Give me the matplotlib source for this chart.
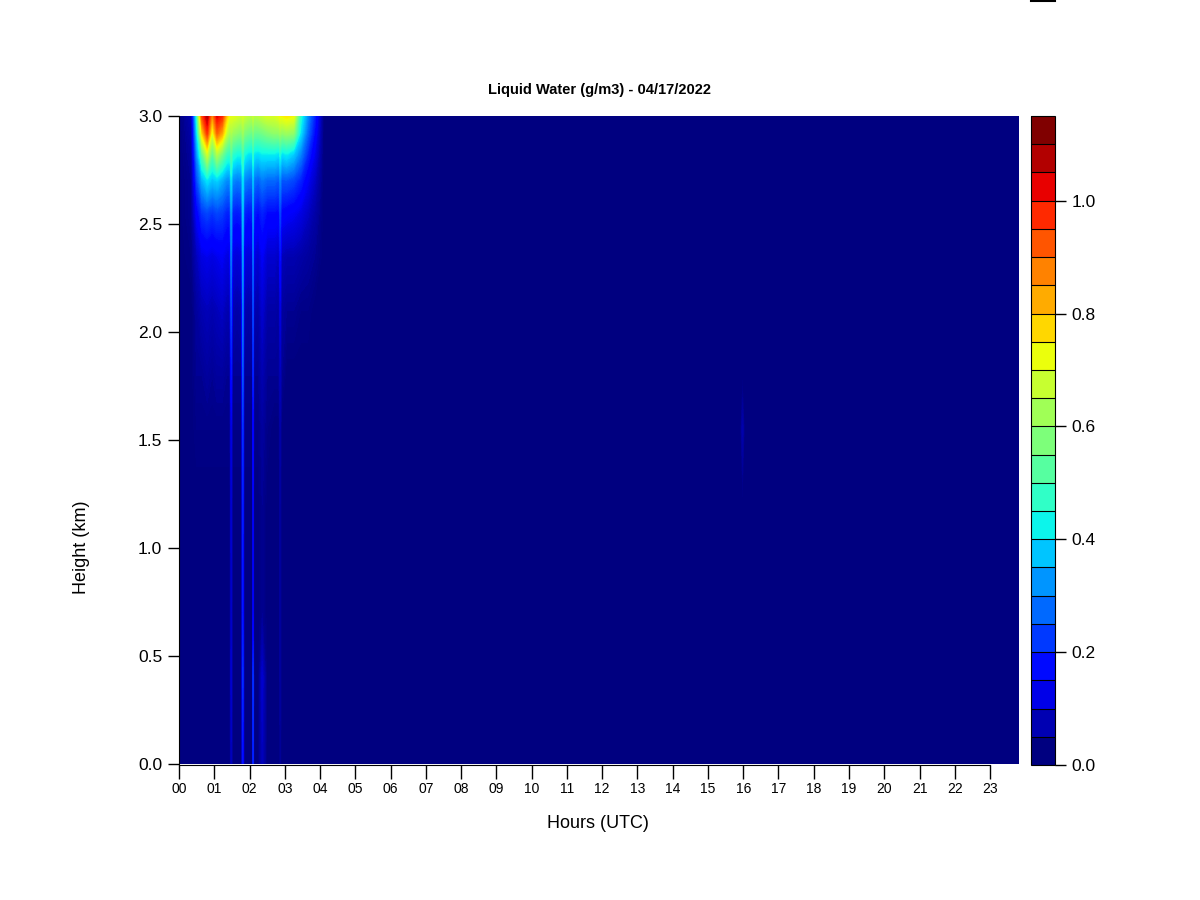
#!/usr/bin/env python3
"""Liquid water time-height plot, 04/17/2022."""
import numpy as np
import matplotlib
matplotlib.use("Agg")
import matplotlib.pyplot as plt
from matplotlib.colors import ListedColormap, BoundaryNorm
from matplotlib.lines import Line2D

plt.rcParams.update({"font.family": ["Liberation Sans", "DejaVu Sans"]})

# time nodes (hours UTC) and height nodes (km)
hours = [0.00, 0.35, 0.50, 0.65, 0.80, 0.94, 1.08, 1.22, 1.35, 1.44, 1.48, 1.52,
         1.65, 1.77, 1.81, 1.85, 1.97, 2.07, 2.10, 2.13, 2.25, 2.36, 2.50, 2.70,
         2.83, 2.87, 2.91, 3.05, 3.25, 3.45, 3.65, 3.85, 4.10, 15.92, 15.98, 16.04, 23.82]
heights_km = [0.00, 0.40, 0.70, 1.20, 1.55, 1.80, 2.10, 2.35, 2.55, 2.70, 2.82, 2.92, 3.00]

# liquid water (g/m3), one row per height (bottom to top), one value per time node
lwc_000 = [0, 0, 0, 0, 0, 0, 0, 0, 0, 0, .06, 0, 0, 0, .16, 0, 0, 0, .18, 0, 0, .06, 0, 0, 0, .02, 0, 0, 0, 0, 0, 0, 0, 0, 0, 0, 0]
lwc_040 = [0, 0, 0, 0, 0, 0, 0, 0, 0, 0, .08, 0, 0, 0, .20, 0, 0, 0, .20, 0, 0, .08, 0, 0, 0, .03, 0, 0, 0, 0, 0, 0, 0, 0, 0, 0, 0]
lwc_070 = [0, 0, 0, 0, 0, 0, 0, 0, 0, 0, .07, 0, 0, 0, .17, 0, 0, 0, .12, 0, 0, .02, 0, 0, 0, .03, 0, 0, 0, 0, 0, 0, 0, 0, 0, 0, 0]
lwc_120 = [0, 0, 0, 0, 0, 0, 0, 0, 0, 0, .08, 0, 0, 0, .18, 0, 0, 0, .12, 0, 0, .02, 0, 0, 0, .03, 0, 0, 0, 0, 0, 0, 0, 0, 0, 0, 0]
lwc_155 = [0, 0, .01, .01, .01, .01, .01, .01, .01, .01, .10, .01, .01, .01, .20, .01, .01, .01, .14, .01, .01, .03, .01, 0, 0, .04, 0, 0, 0, 0, 0, 0, 0, 0, .05, 0, 0]
lwc_180 = [0, 0, .02, .02, .03, .02, .03, .03, .02, .02, .16, .02, .02, .02, .24, .02, .02, .02, .18, .02, .02, .05, .02, .02, .02, .06, .02, 0, 0, 0, 0, 0, 0, 0, 0, 0, 0]
lwc_210 = [0, 0, .03, .05, .06, .05, .06, .07, .05, .05, .22, .05, .04, .05, .28, .05, .04, .05, .22, .05, .04, .08, .04, .04, .03, .10, .03, .02, .02, .01, .01, 0, 0, 0, 0, 0, 0]
lwc_235 = [0, .01, .06, .10, .11, .10, .11, .12, .10, .10, .28, .10, .09, .10, .32, .10, .09, .10, .26, .10, .08, .12, .08, .08, .06, .16, .06, .05, .05, .04, .03, .02, 0, 0, 0, 0, 0]
lwc_255 = [0, .02, .13, .20, .22, .20, .22, .21, .18, .18, .32, .18, .17, .18, .36, .18, .16, .17, .30, .17, .15, .18, .15, .15, .14, .22, .14, .13, .12, .10, .07, .04, 0, 0, 0, 0, 0]
lwc_270 = [0, .02, .22, .34, .40, .36, .38, .34, .30, .30, .40, .30, .28, .29, .40, .29, .27, .27, .36, .27, .25, .28, .26, .26, .24, .30, .24, .24, .22, .18, .12, .07, 0, 0, 0, 0, 0]
lwc_282 = [0, .03, .30, .52, .68, .52, .64, .56, .48, .46, .52, .46, .43, .43, .50, .43, .40, .40, .46, .40, .39, .41, .41, .41, .39, .44, .39, .41, .37, .29, .19, .11, 0, 0, 0, 0, 0]
lwc_292 = [0, .04, .38, .78, .98, .70, .92, .84, .68, .62, .64, .62, .60, .58, .62, .58, .56, .55, .58, .55, .55, .56, .58, .60, .60, .62, .60, .62, .60, .40, .26, .15, 0, 0, 0, 0, 0]
lwc_300 = [0, .05, .45, .95, 1.10, .85, 1.05, 1.00, .80, .72, .72, .72, .70, .68, .70, .68, .66, .65, .68, .65, .66, .68, .70, .70, .72, .74, .74, .76, .74, .45, .30, .18, 0, 0, 0, 0, 0]

cbar_max = 1.15
cbar_step = 0.05
cbar_ticks = [0.0, 0.2, 0.4, 0.6, 0.8, 1.0]
hour_labels = [f"{h:02d}" for h in range(24)]

lwc = np.array([lwc_000, lwc_040, lwc_070, lwc_120, lwc_155, lwc_180, lwc_210,
                lwc_235, lwc_255, lwc_270, lwc_282, lwc_292, lwc_300])

fig = plt.figure(figsize=(12, 9), dpi=100)
ax = fig.add_axes([179 / 1200, 1 - 764 / 900, 840 / 1200, 648 / 900])
cax = fig.add_axes([1031 / 1200, 1 - 765 / 900, 24 / 1200, 649 / 900])

ax.set_facecolor("#000080")
ax.contourf(hours, heights_km, lwc, levels=np.linspace(0, cbar_max, 231),
            cmap="jet", extend="max", antialiased=False)
ax.set_xlim(hours[0], hours[-1])
ax.set_ylim(0, 3.0)

ax.set_xticks(range(24))
ax.set_xticklabels(hour_labels, fontsize=9)
ax.set_yticks([0, 0.5, 1.0, 1.5, 2.0, 2.5, 3.0])
ax.set_yticklabels(["0.0", "0.5", "1.0", "1.5", "2.0", "2.5", "3.0"], fontsize=12.5)
ax.tick_params(axis="x", length=10, width=1, pad=2)
ax.tick_params(axis="y", length=8, width=1, pad=4)
for side in ["top", "right"]:
    ax.spines[side].set_visible(False)
ax.spines["bottom"].set_bounds(0, 23)
ax.spines["bottom"].set_position(("outward", 1))
ax.set_title("Liquid Water (g/m3) - 04/17/2022", fontsize=10.5, fontweight="bold", pad=16)
fig.text(598 / 1200, 1 - 823 / 900, "Hours (UTC)", fontsize=13, ha="center", va="center")
fig.text(82 / 1200, 1 - 547 / 900, "Height (km)", fontsize=13, ha="center", va="center",
         rotation=90)

# discrete colorbar
n_cells = int(round(cbar_max / cbar_step))
bounds = np.linspace(0, cbar_max, n_cells + 1)
cmap_d = ListedColormap(plt.get_cmap("jet")(np.linspace(0, 1, n_cells)))
sm = plt.cm.ScalarMappable(norm=BoundaryNorm(bounds, n_cells), cmap=cmap_d)
cb = fig.colorbar(sm, cax=cax, drawedges=True, ticks=cbar_ticks)
cb.minorticks_off()
cb.ax.set_yticklabels([f"{t:.1f}" for t in cbar_ticks], fontsize=12.5)
cb.ax.tick_params(length=8, width=1, pad=4)
cb.outline.set_linewidth(0.8)
cb.dividers.set_linewidth(0.8)
cb.dividers.set_color("black")

fig.add_artist(Line2D([1031 / 1200, 1055 / 1200], [1 - 0.5 / 900, 1 - 0.5 / 900],
                      color="black", lw=1.5, transform=fig.transFigure))

fig.savefig("out.png", dpi=100)
